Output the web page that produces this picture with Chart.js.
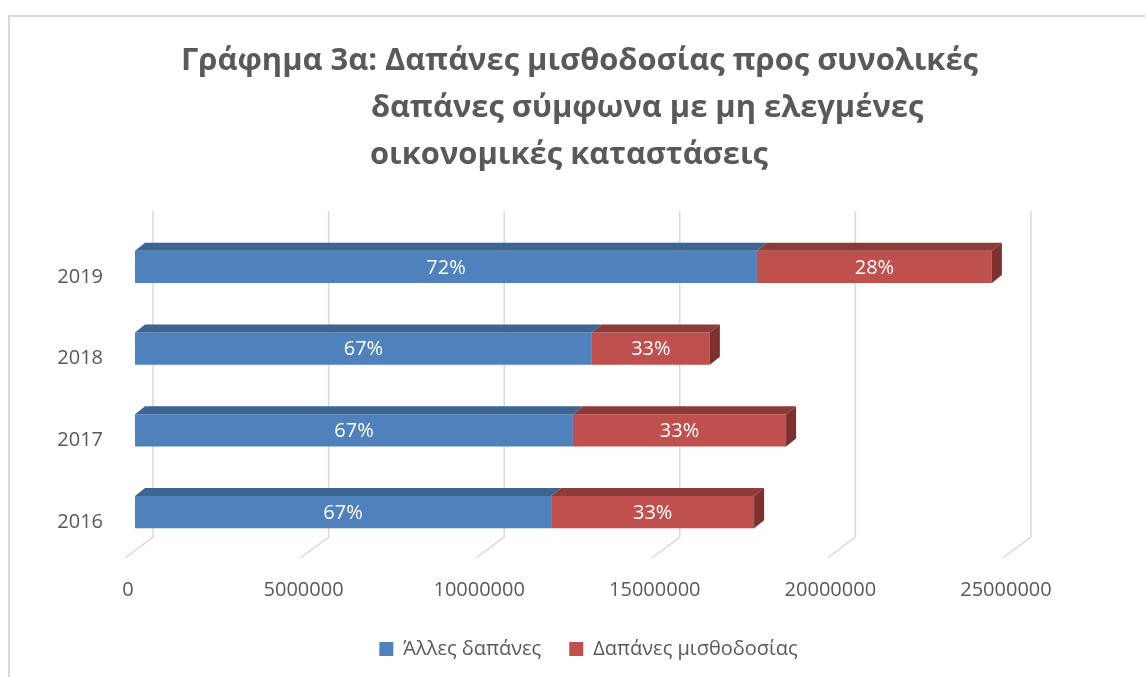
<!DOCTYPE html>
<html>
<head>
<meta charset="utf-8">
<script src="https://cdn.jsdelivr.net/npm/chart.js@4.4.0/dist/chart.umd.min.js"></script>
<style>
    html, body { margin: 0; padding: 0; background: #fff; overflow: hidden; }
    #frame { position: absolute; left: 8px; top: 15px; width: 1200px; height: 700px;
             border-left: 2px solid #d9d9d9; border-top: 2px solid #d9d9d9; }
    #wrap { position: absolute; left: 0; top: 0; width: 1145px; height: 677px; }
</style>
</head>
<body>
<div id="frame"></div>
<div id="wrap"><canvas id="chart" width="1145" height="677"></canvas></div>
<script>
// Data
const categories = ['2019', '2018', '2017', '2016'];
const otherExpenses = [17710000, 13010000, 12470000, 11850000];
const payrollExpenses = [6690000, 3360000, 6070000, 5780000];
const otherLabels = ['72%', '67%', '67%', '67%'];
const payrollLabels = ['28%', '33%', '33%', '33%'];
const xTickValues = [0, 5000000, 10000000, 15000000, 20000000, 25000000];
const seriesNames = ['Άλλες δαπάνες', 'Δαπάνες μισθοδοσίας'];
const titleLines = [
    'Γράφημα 3α: Δαπάνες μισθοδοσίας προς συνολικές',
    'δαπάνες σύμφωνα με μη ελεγμένες',
    'οικονομικές καταστάσεις'
];

const FONT = '"Open Sans", "Noto Sans", sans-serif';
const TEXT_GREY = '#595959';
const DEPTH_X = 10, DEPTH_Y = 8;

const colors = {
    blue: { front: '#4f81bd', top: '#3d6592', side: '#3a5f8a' },
    red: { front: '#c0504d', top: '#8e3a38', side: '#7e302e' },
};

/**
 * Title drawn by hand: the lines are not centred in the reference.
 */
const titlePlugin = {
    id: 'oddTitle',
    afterDraw(chart) {
        const ctx = chart.ctx;
        ctx.save();
        ctx.font = `bold 30px ${FONT}`;
        ctx.fillStyle = TEXT_GREY;
        ctx.textBaseline = 'alphabetic';
        const sx = 797 / ctx.measureText(titleLines[0]).width;
        const starts = [[181, 70], [371, 117], [370, 164]];
        titleLines.forEach((line, i) => {
            ctx.save();
            ctx.translate(starts[i][0], starts[i][1]);
            ctx.scale(sx, 1);
            ctx.fillText(line, 0, 0);
            ctx.restore();
        });
        ctx.restore();
    }
};

/**
 * Fake 3D: back-wall gridlines with floor diagonals, bar tops and end faces.
 */
const bar3dPlugin = {
    id: 'bar3d',
    beforeDatasetsDraw(chart) {
        const ctx = chart.ctx;
        const xScale = chart.scales.x;
        ctx.save();
        ctx.strokeStyle = '#d9d9d9';
        ctx.lineWidth = 1.5;
        xScale.ticks.forEach(t => {
            const px = xScale.getPixelForValue(t.value);
            ctx.beginPath();
            ctx.moveTo(px + 18, 211);
            ctx.lineTo(px + 18, 537);
            ctx.lineTo(px - 10, 558);
            ctx.stroke();
        });
        ctx.restore();
    },
    afterDatasetsDraw(chart) {
        const ctx = chart.ctx;
        ctx.save();
        chart.data.datasets.forEach((ds, di) => {
            const c = di === 0 ? colors.blue : colors.red;
            const last = di === chart.data.datasets.length - 1;
            chart.getDatasetMeta(di).data.forEach(el => {
                const { x, y, base, height } = el.getProps(['x', 'y', 'base', 'height'], true);
                const top = y - height / 2, bottom = y + height / 2;
                ctx.fillStyle = c.top;
                ctx.beginPath();
                ctx.moveTo(base, top);
                ctx.lineTo(base + DEPTH_X, top - DEPTH_Y);
                ctx.lineTo(x + DEPTH_X, top - DEPTH_Y);
                ctx.lineTo(x, top);
                ctx.closePath();
                ctx.fill();
                if (last) {
                    ctx.fillStyle = c.side;
                    ctx.beginPath();
                    ctx.moveTo(x, top);
                    ctx.lineTo(x + DEPTH_X, top - DEPTH_Y);
                    ctx.lineTo(x + DEPTH_X, bottom - DEPTH_Y);
                    ctx.lineTo(x, bottom);
                    ctx.closePath();
                    ctx.fill();
                }
            });
        });

        // data labels
        ctx.font = `20px ${FONT}`;
        ctx.fillStyle = '#ffffff';
        ctx.textAlign = 'center';
        ctx.textBaseline = 'middle';
        chart.data.datasets.forEach((ds, di) => {
            chart.getDatasetMeta(di).data.forEach((el, i) => {
                const p = el.getCenterPoint();
                ctx.fillText(ds.valueLabels[i], p.x, p.y + 1);
            });
        });
        ctx.restore();
    }
};

new Chart(document.getElementById('chart'), {
    type: 'bar',
    data: {
        labels: categories,
        datasets: [
            {
                label: seriesNames[0],
                data: otherExpenses,
                valueLabels: otherLabels,
                backgroundColor: colors.blue.front,
            },
            {
                label: seriesNames[1],
                data: payrollExpenses,
                valueLabels: payrollLabels,
                backgroundColor: colors.red.front,
            },
        ],
    },
    options: {
        indexAxis: 'y',
        responsive: false,
        animation: false,
        barPercentage: 32 / 81,
        categoryPercentage: 1,
        layout: { padding: { top: 226, left: 32, right: 0, bottom: 8 } },
        plugins: {
            title: { display: false },
            tooltip: { enabled: false },
            legend: {
                position: 'bottom',
                labels: {
                    boxWidth: 14,
                    boxHeight: 14,
                    padding: 28,
                    color: TEXT_GREY,
                    font: { family: FONT, size: 20 },
                },
            },
        },
        scales: {
            x: {
                stacked: true,
                min: 0,
                max: 28760000,
                grid: { display: false },
                border: { display: false },
                afterBuildTicks: (scale) => {
                    scale.ticks = xTickValues.map(v => ({ value: v }));
                },
                afterFit: (scale) => { scale.height = 58; },
                ticks: {
                    padding: 17,
                    labelOffset: -7,
                    color: TEXT_GREY,
                    font: { family: FONT, size: 20 },
                    callback: (v) => String(v),
                },
            },
            y: {
                stacked: true,
                grid: { display: false },
                border: { display: false },
                afterFit: (scale) => { scale.width = 103; },
                ticks: {
                    padding: 24,
                    labelOffset: 10,
                    color: TEXT_GREY,
                    font: { family: FONT, size: 20 },
                },
            },
        },
    },
    plugins: [bar3dPlugin, titlePlugin],
});
</script>
</body>
</html>
